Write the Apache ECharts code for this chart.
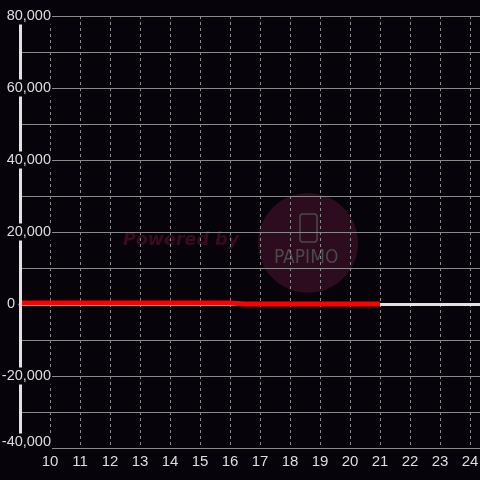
<!DOCTYPE html>
<html>
<head>
<meta charset="utf-8">
<script src="https://cdn.jsdelivr.net/npm/echarts@6/dist/echarts.min.js"></script>
<style>
  html, body { margin: 0; padding: 0; background: #06040a; }
  #chart { width: 480px; height: 480px; }
</style>
</head>
<body>
<div id="chart"></div>
<script>
// x positions and values of the red series
const xValues = [9, 10, 11, 12, 13, 14, 15, 16, 16.5, 17, 18, 19, 20, 21];
const yValues = [250, 250, 250, 250, 250, 250, 250, 250, 0, 0, 0, 0, 0, 0];
const xMin = 9;
const xMax = 24.333;
const yMin = -40000;
const yMax = 80000;

const bg = '#06040a';
const chart = echarts.init(document.getElementById('chart'));

const options = {
  backgroundColor: bg,
  animation: false,
  textStyle: { fontFamily: 'Liberation Sans' },
  grid: { left: 20, right: 0, top: 16, bottom: 32, containLabel: false, outerBoundsMode: 'none' },
  graphic: [
    {
      type: 'circle', z: -10, silent: true,
      shape: { cx: 308, cy: 243, r: 50 },
      style: { fill: '#2c0c1e' }
    },
    {
      type: 'text', z: -10, silent: true,
      left: 123, top: 231,
      style: {
        text: 'Powered by',
        fill: '#3a0a1d',
        font: 'italic bold 17.5px "DejaVu Sans"'
      }
    },
    {
      type: 'rect', z: -10, silent: true,
      shape: { x: 300, y: 214, width: 17, height: 28, r: 3 },
      style: { fill: 'none', stroke: '#4a4a4a', lineWidth: 1.5 }
    },
    {
      type: 'text', z: -10, silent: true,
      left: 274, top: 249,
      style: {
        text: 'PAPIMO',
        fill: '#4a4a4a',
        font: '19px "DejaVu Sans Condensed"'
      }
    }
  ],
  xAxis: [
    {
      type: 'value',
      min: xMin,
      max: xMax,
      interval: 1,
      axisLine: { show: false, onZero: false },
      axisTick: { show: false },
      axisLabel: {
        showMinLabel: false,
        showMaxLabel: false,
        color: '#dddddd',
        fontSize: 15,
        margin: 6
      },
      splitLine: {
        show: true,
        lineStyle: { color: '#8a8a8a', type: [3, 3], width: 1 }
      }
    },
    {
      type: 'value',
      min: xMin,
      max: xMax,
      z: 0,
      axisLine: { show: true, onZero: true, lineStyle: { color: '#e2e2e2', width: 3 } },
      axisTick: { show: false },
      axisLabel: { show: false },
      splitLine: { show: false }
    }
  ],
  yAxis: {
    type: 'value',
    min: yMin,
    max: yMax,
    interval: 20000,
    z: 3,
    axisLine: { show: true, lineStyle: { color: '#e2e2e2', width: 3 } },
    axisTick: { show: false },
    minorTick: { show: false, splitNumber: 2 },
    minorSplitLine: { show: true, lineStyle: { color: '#8a8a8a', width: 1 } },
    splitLine: {
      show: true,
      lineStyle: {
        color: ['#8a8a8a', '#8a8a8a', 'rgba(0,0,0,0)', '#8a8a8a', '#8a8a8a', '#8a8a8a', '#8a8a8a'],
        width: 1
      }
    },
    axisLabel: {
      margin: -32,
      align: 'right',
      formatter(val) {
        if (val === 0) {
          return '{b|0}{s| }';
        }
        if (val === yMin) {
          // bottom label sits just above its line
          return '{b|' + val.toLocaleString('en-US') + '}\n{e| }';
        }
        return '{b|' + val.toLocaleString('en-US') + '}';
      },
      rich: {
        b: {
          color: '#dddddd',
          fontSize: 14.5,
          fontFamily: 'Liberation Sans',
          backgroundColor: bg,
          padding: [1, 1]
        },
        e: { height: 12, lineHeight: 12, fontSize: 1 },
        s: { width: 36, fontSize: 14.5 }
      }
    }
  },
  series: [
    {
      name: '',
      type: 'line',
      z: 2,
      showSymbol: false,
      xAxisIndex: 0,
      data: xValues.map((x, i) => [x, yValues[i]]),
      lineStyle: { color: '#ff0000', width: 5 }
    }
  ]
};
chart.setOption(options);
</script>
</body>
</html>
